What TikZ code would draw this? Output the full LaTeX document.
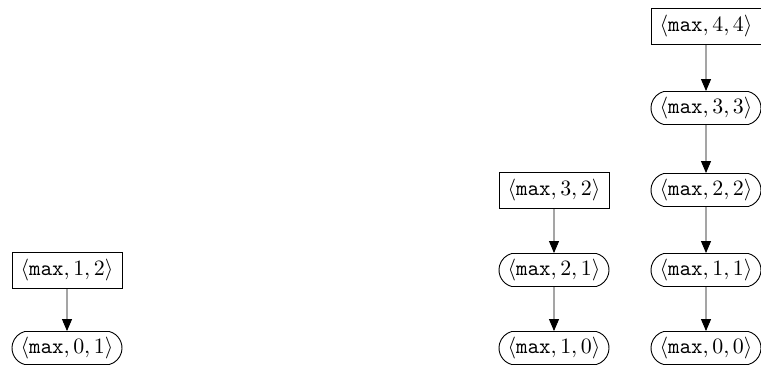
\documentclass[tikz,border=0pt]{standalone}
\usetikzlibrary{shapes.misc,arrows.meta}
\begin{document}
\begin{tikzpicture}[x=0.5pt,y=-0.5pt,line width=0.45pt,
  every node/.style={font=\fontsize{11.4}{13}\selectfont},
  boxnode/.style={draw,rectangle,minimum width=55pt,minimum height=18pt,inner sep=2pt},
  ovalnode/.style={draw,rounded rectangle,minimum width=58pt,minimum height=16.5pt,inner sep=1.5pt,rounded rectangle arc length=150},
  conn/.style={-{Triangle[length=6pt,width=5pt]}}]
\useasboundingbox (0,0) rectangle (761,372);
\node[boxnode] (a) at (67,270) {$\langle\mathtt{max},1,2\rangle$};
\node[ovalnode] (b) at (67,348) {$\langle\mathtt{max},0,1\rangle$};
\node[boxnode] (c) at (554,190) {$\langle\mathtt{max},3,2\rangle$};
\node[ovalnode] (d) at (554,270) {$\langle\mathtt{max},2,1\rangle$};
\node[ovalnode] (e) at (554,348) {$\langle\mathtt{max},1,0\rangle$};
\node[boxnode] (f) at (706,26) {$\langle\mathtt{max},4,4\rangle$};
\node[ovalnode] (g) at (706,108) {$\langle\mathtt{max},3,3\rangle$};
\node[ovalnode] (h) at (706,190) {$\langle\mathtt{max},2,2\rangle$};
\node[ovalnode] (i) at (706,270) {$\langle\mathtt{max},1,1\rangle$};
\node[ovalnode] (j) at (706,348) {$\langle\mathtt{max},0,0\rangle$};
\draw[conn] (a) -- (b);
\draw[conn] (c) -- (d);
\draw[conn] (d) -- (e);
\draw[conn] (f) -- (g);
\draw[conn] (g) -- (h);
\draw[conn] (h) -- (i);
\draw[conn] (i) -- (j);
\end{tikzpicture}
\end{document}
